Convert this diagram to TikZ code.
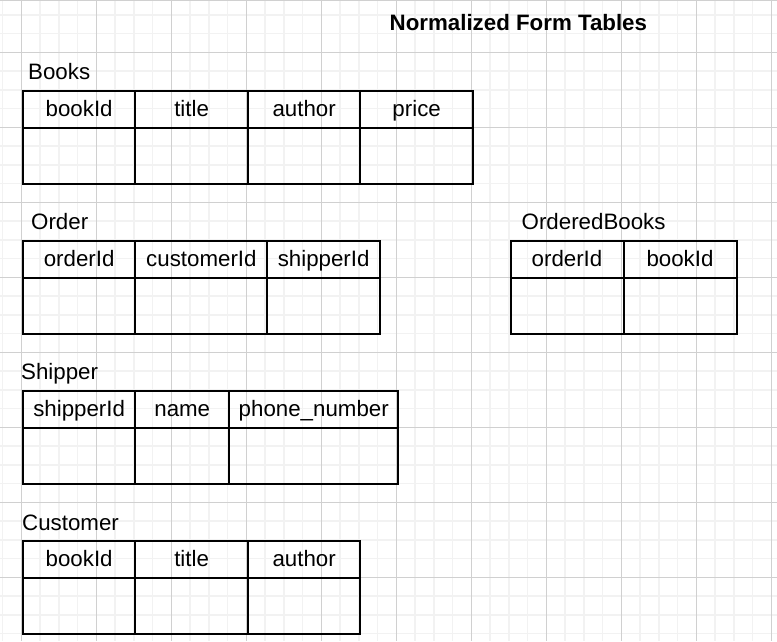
\documentclass[tikz,border=0pt]{standalone}
\usepackage{fontspec}
\setmainfont{Liberation Sans}
\usepackage{tikz}
\usetikzlibrary{matrix}

\definecolor{gridminor}{HTML}{F2F2F2}
\definecolor{gridmajor}{HTML}{D0D0D0}

\tikzset{
  dbtable/.style={
    matrix of nodes,
    nodes in empty cells,
    anchor=north west,
    inner sep=0pt,
    column sep=-2pt,
    row sep=-2pt,
    nodes={draw, line width=2pt, outer sep=0pt, inner sep=0pt,
      minimum width=112.5pt, text height=16pt, text depth=3pt},
    row 1/.style={nodes={minimum height=37.5pt}},
    row 2/.style={nodes={minimum height=56pt}},
  },
  tabletitle/.style={anchor=base west, inner sep=0pt},
}

\begin{document}
\begin{tikzpicture}[x=1pt,y=-1pt,font=\fontsize{22.3}{26}\selectfont]
    \useasboundingbox[fill=white] (0,0) rectangle (777,641);
    \foreach \i in {-1,...,41}
      \draw[gridminor,line width=1.5pt] (21.3+18.75*\i,0) -- (21.3+18.75*\i,641);
    \foreach \i in {-3,...,32}
      \draw[gridminor,line width=1.5pt] (0,52.3+18.75*\i) -- (777,52.3+18.75*\i);
    \foreach \i in {0,...,10}
      \draw[gridmajor,line width=1pt] (21.3+75*\i,0) -- (21.3+75*\i,641);
    \foreach \i in {0,...,7}
      \draw[gridmajor,line width=1pt] (0,52.3+75*\i) -- (777,52.3+75*\i);
    \draw[gridmajor,line width=1pt] (0,0.8) -- (777,0.8);

    \node (heading) [tabletitle,font=\fontsize{22.3}{26}\selectfont\bfseries] at (389.5,30.5) {Normalized Form Tables};

    \node (books-title) [tabletitle] at (28,79) {Books};
    \matrix (books) [dbtable] at (21.7,89.7)
    {
      bookId & title & author & price \\
             &       &        &       \\
    };

    \node (order-title) [tabletitle] at (31,229.3) {Order};
    \matrix (order) [dbtable,
      column 2/.style={nodes={minimum width=132pt}}] at (21.7,239.7)
    {
      orderId & customerId & shipperId \\
              &            &           \\
    };

    \node (orderedbooks-title) [tabletitle] at (521.5,229.3) {OrderedBooks};
    \matrix (orderedbooks) [dbtable,
      column 1/.style={nodes={minimum width=113pt}},
      column 2/.style={nodes={minimum width=113pt}}] at (509.3,239.7)
    {
      orderId & bookId \\
              &        \\
    };

    \node (shipper-title) [tabletitle] at (21,379.5) {Shipper};
    \matrix (shipper) [dbtable,
      column 2/.style={nodes={minimum width=93.7pt}},
      column 3/.style={nodes={minimum width=169.3pt}}] at (21.7,389.7)
    {
      shipperId & name & phone\_number \\
                &      &               \\
    };

    \node (customer-title) [tabletitle] at (22,530) {Customer};
    \matrix (customer) [dbtable] at (21.7,539.7)
    {
      bookId & title & author \\
             &       &        \\
    };
  \end{tikzpicture}
\end{document}
